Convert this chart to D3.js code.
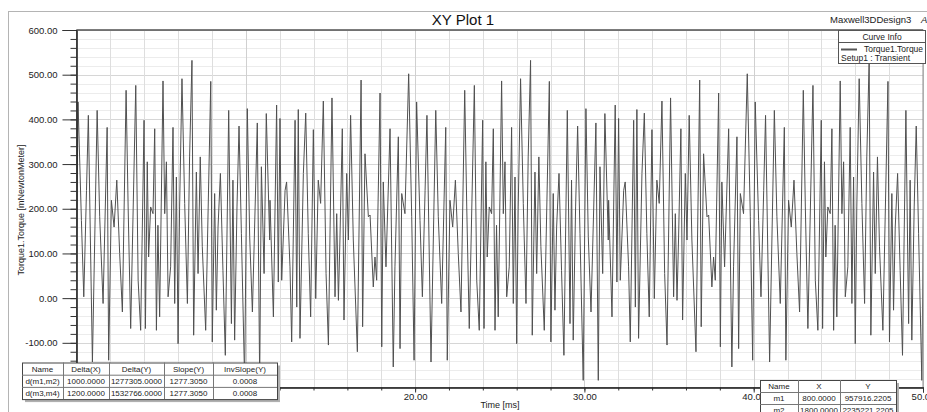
<!DOCTYPE html>
<html>
<head>
<meta charset="utf-8">
<script src="https://cdn.jsdelivr.net/npm/d3@7"></script>
<style>
  body { margin: 0; background: #fff; }
  svg { display: block; font-family: "Liberation Sans", Arial, sans-serif; }
</style>
</head>
<body>
<svg id="chart" width="927" height="412"></svg>
<script>
const cycleStart = 11.43;
const cycleLength = 20;
const cycleTime = [
  0.00, 0.20, 0.39, 0.49, 0.59, 0.69, 0.89, 0.98, 1.18, 1.28, 1.48, 1.58, 1.67, 1.77, 1.97,
  2.11, 2.26, 2.40, 2.56, 2.70, 2.85, 2.99, 3.15, 3.31, 3.45, 3.66, 3.84, 3.94, 4.04, 4.13,
  4.27, 4.37, 4.53, 4.63, 4.76, 4.92, 5.16, 5.38, 5.47, 5.61, 5.81, 5.91, 6.10, 6.20, 6.30,
  6.50, 6.60, 6.69, 6.85, 7.09, 7.28, 7.38, 7.58, 7.68, 7.78, 7.97, 8.19, 8.37, 8.51, 8.66,
  8.86, 9.00, 9.16, 9.27, 9.51, 9.79, 9.94, 10.14, 10.38, 10.47, 10.63, 10.79, 10.95, 11.12,
  11.28, 11.50, 11.62, 11.77, 12.07, 12.21, 12.36, 12.56, 12.64, 12.75, 12.83, 12.95, 13.09,
  13.19, 13.29, 13.38, 13.48, 13.68, 13.78, 13.88, 13.98, 14.13, 14.27, 14.37, 14.47, 14.57,
  14.66, 14.80, 14.96, 15.12, 15.25, 15.39, 15.49, 15.65, 15.75, 15.88, 16.00, 16.20, 16.50,
  16.59, 16.73, 16.83, 16.93, 17.07, 17.22, 17.36, 17.56, 17.72, 17.81, 17.91, 18.05, 18.17,
  18.31, 18.50, 18.66, 18.80, 18.96, 19.09, 19.25, 19.39, 19.49, 19.65, 19.78, 19.98
];
const cycleTorque = [
  219, -42, 432, 36, 402, 40, 241, 260, 70, -98, 398, -20, 422, -90, 279,
  414, 144, -42, 377, -1, 264, 212, 441, 55, -105, 448, 3, 189, -5, 130,
  379, -49, 279, 130, 409, 130, -120, 488, -64, 323, 182, 186, 25, 92, 40,
  459, -109, 260, 70, 379, -154, 70, 361, -113, 234, 189, 502, 182, -139, 439,
  174, 3, 241, 409, -143, 420, 182, -12, 382, -139, 219, 159, 264, 100,
  -31, 465, 204, -68, 476, 40, -72, 398, -68, 305, 92, 204, 189,
  379, -72, 163, -42, 486, 189, 305, 3, 70, 382, -12, 271, -102,
  204, 491, 212, -12, 316, 532, -83, 282, 55, 316, 115, -72, 485,
  -98, 234, -27, 159, 279, 62, -128, 420, -57, 264, -94, 204, 385,
  144, -184, 424, 137, -31, 159, 392, -184, 294, 55, 413, 130
];

const yMajor = [-100, 0, 100, 200, 300, 400, 500, 600];
// 0 and 10 ms labels sit under the delta table in the original
const xMajor = [0, 10, 20, 30, 40, 50];
const xLabelled = [20, 30, 40, 50];

const deltaHeader = ["Name", "Delta(X)", "Delta(Y)", "Slope(Y)", "InvSlope(Y)"];
const deltaRows = [
  ["d(m1,m2)", "1000.0000", "1277305.0000", "1277.3050", "0.0008"],
  ["d(m3,m4)", "1200.0000", "1532766.0000", "1277.3050", "0.0008"]
];
const markerHeader = ["Name", "X", "Y"];
const markerRows = [
  ["m1", "800.0000", "957916.2205"],
  ["m2", "1800.0000", "2235221.2205"]
];

// lay the cycle out over the whole 0..50 ms window
const series = [];
for (let k = -1; k <= 2; k++) {
  cycleTime.forEach((t, i) => {
    series.push({ t: cycleStart + k * cycleLength + t, v: cycleTorque[i] });
  });
}

const svg = d3.select("#chart");
const pl = 76.5, pr = 923, pt = 30, pb = 387.5;
const x = d3.scaleLinear().domain([0, 50]).range([pl, pr]);
const y = d3.scaleLinear().domain([-200, 600]).range([pb, pt]);

// outer frame
svg.append("rect").attr("x", 8.5).attr("y", 11.5).attr("width", 940).attr("height", 420)
  .attr("fill", "none").attr("stroke", "#b4b4b4");

// grid
const grid = svg.append("g");
grid.selectAll(".hmin").data(d3.range(-200, 601, 20)).enter().append("line")
  .attr("x1", pl).attr("x2", pr)
  .attr("y1", d => Math.round(y(d)) + 0.5).attr("y2", d => Math.round(y(d)) + 0.5)
  .attr("stroke", d => d % 100 === 0 ? "#d6d6d6" : "#ececec");
grid.selectAll(".vmin").data(d3.range(0, 51, 2)).enter().append("line")
  .attr("y1", pt).attr("y2", pb)
  .attr("x1", d => Math.round(x(d)) + 0.5).attr("x2", d => Math.round(x(d)) + 0.5)
  .attr("stroke", d => d % 10 === 0 ? "#d0d0d0" : "#dedede");

// torque trace
svg.append("clipPath").attr("id", "clip").append("rect")
  .attr("x", pl).attr("y", pt).attr("width", pr - pl).attr("height", pb - pt);
const line = d3.line().x(d => x(d.t)).y(d => y(d.v));
svg.append("path").datum(series)
  .attr("clip-path", "url(#clip)")
  .attr("d", line)
  .attr("fill", "none").attr("stroke", "#505050").attr("stroke-width", 1);

// plot frame
svg.append("rect").attr("x", pl).attr("y", pt).attr("width", pr - pl).attr("height", pb - pt)
  .attr("fill", "none").attr("stroke", "#8c8c8c");
svg.append("line").attr("x1", pl).attr("x2", pr).attr("y1", pt).attr("y2", pt).attr("stroke", "#333");

// y axis
const yMinor = svg.append("g").attr("transform", `translate(${pl},0)`)
  .call(d3.axisLeft(y).tickValues(d3.range(-200, 601, 20)).tickSize(6).tickFormat(""));
const yAxis = svg.append("g").attr("transform", `translate(${pl},0)`)
  .call(d3.axisLeft(y).tickValues(yMajor).tickSize(14).tickPadding(5)
    .tickFormat(d => d.toFixed(2)));
[yMinor, yAxis].forEach(g => {
  g.select(".domain").attr("stroke", "#222");
  g.selectAll(".tick line").attr("stroke", "#333");
});
yAxis.selectAll("text").attr("font-size", 9.5).attr("fill", "#222")
  .attr("font-family", "Liberation Sans, Arial, sans-serif");

// x axis
const xMinor = svg.append("g").attr("transform", `translate(0,${pb})`)
  .call(d3.axisBottom(x).tickValues(d3.range(0, 51, 2)).tickSize(3).tickFormat(""));
const xAxis = svg.append("g").attr("transform", `translate(0,${pb})`)
  .call(d3.axisBottom(x).tickValues(xMajor).tickSize(5).tickPadding(1)
    .tickFormat(d => xLabelled.includes(d) ? d.toFixed(2) : ""));
[xMinor, xAxis].forEach(g => {
  g.select(".domain").attr("stroke", "#222");
  g.selectAll(".tick line").attr("stroke", "#333");
});
xAxis.selectAll("text").attr("font-size", 9.5).attr("fill", "#222")
  .attr("font-family", "Liberation Sans, Arial, sans-serif");

// titles
svg.append("text").attr("x", 463).attr("y", 25).attr("text-anchor", "middle")
  .attr("font-size", 15).attr("fill", "#111").text("XY Plot 1");
svg.append("text").attr("x", 830).attr("y", 23).attr("font-size", 9.5).attr("fill", "#222")
  .text("Maxwell3DDesign3");
svg.append("text").attr("x", 921).attr("y", 23).attr("font-size", 9.5).attr("fill", "#222")
  .attr("font-style", "italic").text("ANSYS");
svg.append("text").attr("transform", "translate(24,210) rotate(-90)").attr("text-anchor", "middle")
  .attr("font-size", 9).attr("fill", "#222").text("Torque1.Torque [mNewtonMeter]");
svg.append("text").attr("x", 500).attr("y", 408).attr("text-anchor", "middle")
  .attr("font-size", 9).attr("fill", "#222").text("Time [ms]");

// curve info legend
const leg = svg.append("g");
leg.append("rect").attr("x", 838.5).attr("y", 30.5).attr("width", 87).attr("height", 33)
  .attr("fill", "#fff").attr("stroke", "#555");
leg.append("line").attr("x1", 838.5).attr("x2", 925.5).attr("y1", 42.5).attr("y2", 42.5).attr("stroke", "#555");
leg.append("text").attr("x", 882).attr("y", 39.5).attr("text-anchor", "middle")
  .attr("font-size", 8.5).attr("fill", "#222").text("Curve Info");
leg.append("line").attr("x1", 841).attr("x2", 857).attr("y1", 49.5).attr("y2", 49.5)
  .attr("stroke", "#555").attr("stroke-width", 2);
leg.append("text").attr("x", 864).attr("y", 52).attr("font-size", 8.5).attr("fill", "#222")
  .text("Torque1.Torque");
leg.append("text").attr("x", 841).attr("y", 61).attr("font-size", 8.5).attr("fill", "#222")
  .text("Setup1 : Transient");

// marker tables
function drawTable(x0, y0, widths, rowH, rows) {
  const w = d3.sum(widths), h = rowH * rows.length;
  const g = svg.append("g");
  g.append("rect").attr("x", x0 + 3).attr("y", y0 + 3).attr("width", w).attr("height", h).attr("fill", "#b0b0b0");
  g.append("rect").attr("x", x0 + 0.5).attr("y", y0 + 0.5).attr("width", w).attr("height", h)
    .attr("fill", "#fff").attr("stroke", "#444");
  const edges = d3.cumsum(widths);
  edges.slice(0, -1).forEach(e => g.append("line")
    .attr("x1", x0 + e + 0.5).attr("x2", x0 + e + 0.5).attr("y1", y0).attr("y2", y0 + h).attr("stroke", "#777"));
  rows.slice(1).forEach((r, i) => g.append("line")
    .attr("x1", x0).attr("x2", x0 + w).attr("y1", y0 + rowH * (i + 1) + 0.5).attr("y2", y0 + rowH * (i + 1) + 0.5)
    .attr("stroke", "#777"));
  rows.forEach((r, ri) => r.forEach((c, ci) => {
    g.append("text").attr("x", x0 + (ci ? edges[ci - 1] : 0) + widths[ci] / 2)
      .attr("y", y0 + rowH * ri + rowH / 2 + 3).attr("text-anchor", "middle")
      .attr("font-size", 8).attr("fill", "#222").text(c);
  }));
}
drawTable(22, 362.5, [41, 46, 55, 49, 64], 12.2, [deltaHeader, ...deltaRows]);
drawTable(760, 380, [38, 42, 56], 12, [markerHeader, ...markerRows]);
</script>
</body>
</html>
